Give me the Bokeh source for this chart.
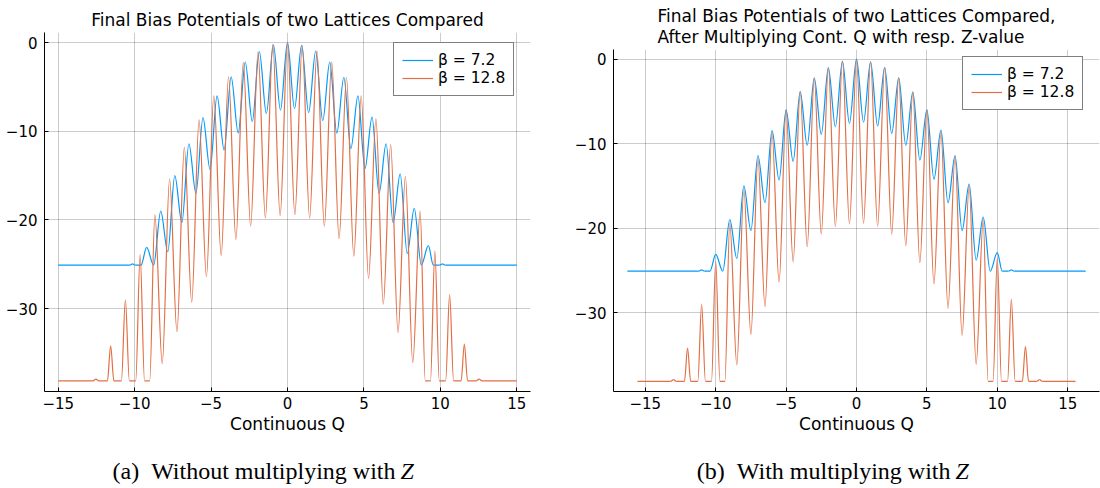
import numpy as np
from bokeh.plotting import figure
from bokeh.models import Range1d, FixedTicker, Legend, LegendItem, ColumnDataSource
from bokeh.layouts import column, row
from bokeh.embed import file_html
from bokeh.resources import INLINE
from bokeh.core.properties import value

# ---------------- data ----------------
# Knots of each bias potential (extrema and corners of flat parts), x given in
# Z-multiplied charge units (right panel); left panel uses Q = x / Z.
series_labels = ["β = 7.2", "β = 12.8"]
z_values = [1.085, 1.037]

blue_x = [-16.28, -11.2, -11.0, -10.8, -10.4, -10.0, -9.5, -9.0, -8.5, -8.0, -7.5,
          -7.0, -6.5, -6.0, -5.5, -5.0, -4.5, -4.0, -3.5, -3.0, -2.5, -2.0, -1.5,
          -1.0, -0.5, 0.0, 0.5, 1.0, 1.5, 2.0, 2.5, 3.0, 3.5, 4.0, 4.5, 5.0, 5.5,
          6.0, 6.5, 7.0, 7.5, 8.0, 8.5, 9.0, 9.5, 10.0, 10.35, 10.8, 11.0, 11.2, 16.28]
blue_y = [-25.1, -25.1, -24.95, -25.1, -25.1, -23.1, -25.1, -19.0, -23.6, -15.0, -20.3,
          -11.4, -17.0, -8.45, -14.3, -6.0, -12.1, -3.85, -10.2, -2.2, -8.9, -1.0, -8.0,
          -0.25, -7.6, 0.0, -7.45, -0.3, -7.9, -0.95, -8.8, -2.2, -10.2, -3.9, -11.95, -6.0, -14.2,
          -8.4, -17.0, -11.4, -20.3, -14.8, -23.8, -18.7, -25.1, -22.9, -25.1, -25.1, -24.95, -25.1, -25.1]

orange_x = [-15.56, -13.2, -13.0, -12.8, -12.22, -12.0, -11.78, -11.27, -11.0, -10.73,
            -10.3, -10.0, -9.7, -9.35, -9.0, -8.5, -8.0, -7.5, -7.0, -6.5, -6.0, -5.5,
            -5.0, -4.5, -4.0, -3.5, -3.0, -2.5, -2.0, -1.5, -1.0, -0.5, 0.0, 0.5, 1.0,
            1.5, 2.0, 2.5, 3.0, 3.5, 4.0, 4.5, 5.0, 5.5, 6.0, 6.5, 7.0, 7.5, 8.0, 8.5,
            9.0, 9.35, 9.7, 10.0, 10.3, 10.73, 11.0, 11.27, 11.78, 12.0, 12.22, 12.8,
            13.0, 13.2, 15.56]
orange_y = [-38.15, -38.15, -37.95, -38.15, -38.15, -34.2, -38.15, -38.15, -29.0, -38.15,
            -38.15, -23.9, -38.15, -38.15, -19.4, -36.2, -15.4, -32.6, -11.8, -29.3, -8.7, -26.4,
            -6.0, -24.0, -3.85, -22.2, -2.25, -20.7, -1.05, -19.8, -0.2, -19.5, 0.0, -19.4, -0.3,
            -19.8, -0.95, -20.7, -2.2, -22.1, -3.9, -24.1, -6.0, -26.6, -8.6, -29.5, -11.5, -32.7, -15.1, -36.1,
            -19.0, -38.15, -38.15, -23.5, -38.15, -38.15, -28.4, -38.15, -38.15, -34.0, -38.15, -38.15,
            -37.95, -38.15, -38.15]

x_ticks = [-15, -10, -5, 0, 5, 10, 15]
y_ticks = [-30, -20, -10, 0]

BLUE = "#009AFA"
ORANGE = "#E26F46"
SANS = "DejaVu Sans"


def bezier_source(xs, ys, scale):
    xs = np.asarray(xs, dtype=float) / scale
    ys = np.asarray(ys, dtype=float)
    x0, x1, y0, y1 = xs[:-1], xs[1:], ys[:-1], ys[1:]
    dx = x1 - x0
    return ColumnDataSource(dict(x0=x0, y0=y0, x1=x1, y1=y1,
                                 cx0=x0 + dx / 3.0, cy0=y0,
                                 cx1=x1 - dx / 3.0, cy1=y1))


def minus(v):
    return ("−" + str(abs(v))) if v < 0 else str(v)


def make_panel(title, scaled, xr, border_left, border_right, border_top, legend_loc):
    p = figure(width=550, height=440, x_range=Range1d(*xr), y_range=Range1d(-39.35, 1.15),
               output_backend="svg", toolbar_location=None, title=title,
               min_border_left=border_left, min_border_right=border_right,
               min_border_top=border_top, min_border_bottom=49)
    p.frame_align = False
    p.outline_line_color = None
    p.background_fill_color = "white"
    p.border_fill_color = "white"
    p.title.text_font = SANS
    p.title.text_font_size = "17px"
    p.title.text_font_style = "normal"
    p.title.text_color = "black"
    p.title.align = "center"
    p.title.text_line_height = 1.05
    p.title.standoff = 6

    p.xaxis.ticker = FixedTicker(ticks=x_ticks)
    p.yaxis.ticker = FixedTicker(ticks=y_ticks)
    p.xaxis.major_label_overrides = {t: minus(t) for t in x_ticks}
    p.yaxis.major_label_overrides = {t: minus(t) for t in y_ticks}
    p.xaxis.axis_label = "Continuous Q"
    p.xaxis.axis_label_text_font = SANS
    p.xaxis.axis_label_text_font_size = "17px"
    p.xaxis.axis_label_text_font_style = "normal"
    p.xaxis.axis_label_text_color = "black"
    p.xaxis.axis_label_standoff = 2
    for ax in (p.xaxis, p.yaxis):
        ax.major_label_text_font = SANS
        ax.major_label_text_font_size = "15px"
        ax.major_label_text_color = "black"
        ax.axis_line_color = "black"
        ax.axis_line_width = 1
        ax.major_tick_in = 4
        ax.major_tick_out = 0
        ax.major_tick_line_color = "black"
        ax.minor_tick_line_color = None
    p.xaxis.major_label_standoff = 5
    p.yaxis.major_label_standoff = 7
    p.grid.grid_line_color = "#000000"
    p.grid.grid_line_alpha = 0.2
    p.grid.grid_line_width = 1

    z_blue = z_values[0] if not scaled else 1.0
    z_orange = z_values[1] if not scaled else 1.0
    rb = p.bezier(x0="x0", y0="y0", x1="x1", y1="y1", cx0="cx0", cy0="cy0", cx1="cx1", cy1="cy1",
                  source=bezier_source(blue_x, blue_y, z_blue), line_color=BLUE, line_width=1.2)
    ro = p.bezier(x0="x0", y0="y0", x1="x1", y1="y1", cx0="cx0", cy0="cy0", cx1="cx1", cy1="cy1",
                  source=bezier_source(orange_x, orange_y, z_orange), line_color=ORANGE, line_width=1.2)

    legend = Legend(items=[LegendItem(label=series_labels[0], renderers=[rb]),
                           LegendItem(label=series_labels[1], renderers=[ro])],
                    location=legend_loc, margin=0, padding=8, spacing=0,
                    glyph_width=31, glyph_height=18, label_height=18, label_standoff=5,
                    label_text_font=SANS, label_text_font_size="15.5px",
                    label_text_color="black",
                    border_line_color="black", border_line_width=1,
                    background_fill_color="white", background_fill_alpha=1.0)
    p.add_layout(legend)
    return p


p1 = make_panel("Final Bias Potentials of two Lattices Compared", False, (-15.9, 15.9),
                44, 20, 32, (349, 295))
p2 = make_panel("Final Bias Potentials of two Lattices Compared,\nAfter Multiplying Cont. Q with resp. Z-value",
                True, (-17.26, 17.26), 63, 1, 47, (349, 281))

cap = figure(width=1100, height=48, x_range=Range1d(0, 1100), y_range=Range1d(0, 48),
             output_backend="svg", toolbar_location=None, x_axis_type=None, y_axis_type=None,
             min_border=0)
cap.frame_align = False
cap.outline_line_color = None
cap.grid.visible = False
caption_main = ["(a)\u2002Without multiplying with", "(b)\u2002With multiplying with"]
caption_var = ["Z", "Z"]
cap.text(x=[395, 950], y=[18, 18], text=caption_main, text_align="right", text_baseline="alphabetic",
         text_font=value("Liberation Serif"), text_font_size="24px", text_color="black")
cap.text(x=[400, 955], y=[18, 18], text=caption_var, text_align="left", text_baseline="alphabetic",
         text_font=value("Liberation Serif"), text_font_size="24px", text_font_style="italic",
         text_color="black")

layout = column(row(p1, p2, spacing=0), cap, spacing=0)
open("out.html", "w").write(file_html(layout, INLINE))
